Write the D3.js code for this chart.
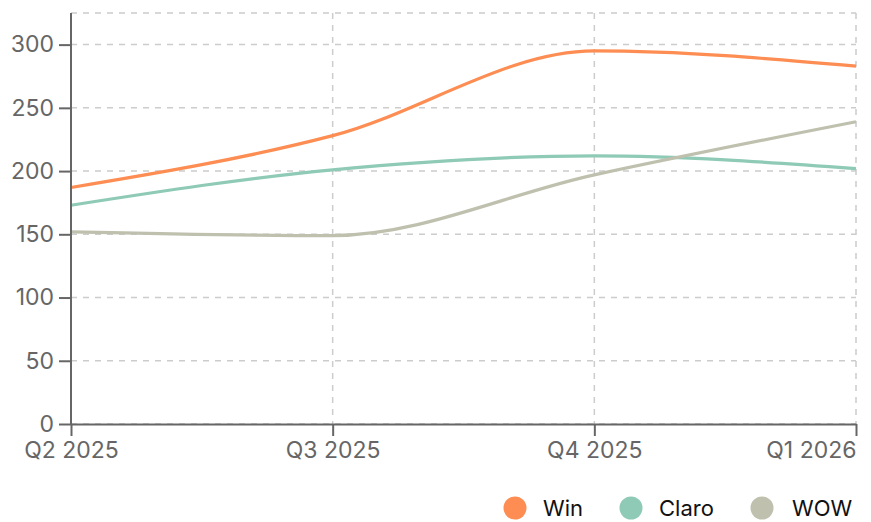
<!DOCTYPE html>
<html>
<head>
<meta charset="utf-8">
<script src="https://cdn.jsdelivr.net/npm/d3@7"></script>
<style>
  body { margin: 0; background: #fff; }
  svg { display: block; font-family: Inter, "Noto Sans", sans-serif; }
</style>
</head>
<body>
<svg id="chart" width="871" height="522"></svg>
<script>
// data
const quarters = ["Q2 2025", "Q3 2025", "Q4 2025", "Q1 2026"];
const seriesNames = ["Win", "Claro", "WOW"];
const winValues = [187, 228, 295, 283];
const claroValues = [173, 201, 212, 202];
const wowValues = [152, 149, 197, 239];
const yTicks = [0, 50, 100, 150, 200, 250, 300];
const colors = ["#fd8d52", "#8ecab6", "#bfc1ae"];

const series = [winValues, claroValues, wowValues].map((v, i) => ({ name: seriesNames[i], values: v, color: colors[i] }));

const svg = d3.select("#chart");
const width = +svg.attr("width");
const height = +svg.attr("height");
const margin = { top: 13, right: 15, bottom: 98, left: 71 };

const x = d3.scalePoint().domain(quarters).range([margin.left, width - margin.right]);
const y = d3.scaleLinear().domain([0, 325]).range([height - margin.bottom, margin.top]);

// grid
const gGrid = svg.append("g").attr("stroke", "#ccc").attr("stroke-width", 1.5).attr("stroke-dasharray", "6 6");
gGrid.selectAll("line.h")
    .data(yTicks.concat([325]))
    .join("line")
    .attr("x1", margin.left).attr("x2", width - margin.right)
    .attr("y1", d => y(d)).attr("y2", d => y(d));
gGrid.selectAll("line.v")
    .data(quarters)
    .join("line")
    .attr("x1", d => x(d)).attr("x2", d => x(d))
    .attr("y1", margin.top).attr("y2", height - margin.bottom);

// lines
const line = d3.line()
    .x((d, i) => x(quarters[i]))
    .y(d => y(d))
    .curve(d3.curveMonotoneX);

svg.append("g").selectAll("path")
    .data(series)
    .join("path")
    .attr("fill", "none")
    .attr("stroke", d => d.color)
    .attr("stroke-width", 3.2)
    .attr("d", d => line(d.values));

// axes
const axisColor = "#666";
const yAxis = svg.append("g")
    .attr("transform", `translate(${margin.left},0)`)
    .call(d3.axisLeft(y).tickValues(yTicks).tickSize(12).tickPadding(5).tickSizeOuter(0));
const xAxis = svg.append("g")
    .attr("transform", `translate(0,${height - margin.bottom})`)
    .call(d3.axisBottom(x).tickSize(12).tickPadding(6).tickSizeOuter(0));

[yAxis, xAxis].forEach(g => {
  g.select(".domain").attr("stroke", axisColor).attr("stroke-width", 2);
  g.selectAll(".tick line").attr("stroke", axisColor).attr("stroke-width", 2);
  g.selectAll(".tick text").attr("fill", "#666").attr("font-size", 23).attr("font-family", "Inter, sans-serif");
});
// y axis line spans to the top of the plot
yAxis.select(".domain").attr("d", `M0,${margin.top}V${height - margin.bottom}`);
xAxis.selectAll(".tick text")
    .attr("text-anchor", (d, i) => i === quarters.length - 1 ? "end" : "middle");

// legend
const legendX = [515, 631, 762];
const legend = svg.append("g").selectAll("g")
    .data(series)
    .join("g")
    .attr("transform", (d, i) => `translate(${legendX[i]},508)`);
legend.append("circle").attr("r", 11.5).attr("fill", d => d.color);
legend.append("text")
    .attr("x", (d, i) => i === 2 ? 30 : 28)
    .attr("y", 8)
    .attr("font-size", 22)
    .attr("fill", "#111")
    .text(d => d.name);
</script>
</body>
</html>
